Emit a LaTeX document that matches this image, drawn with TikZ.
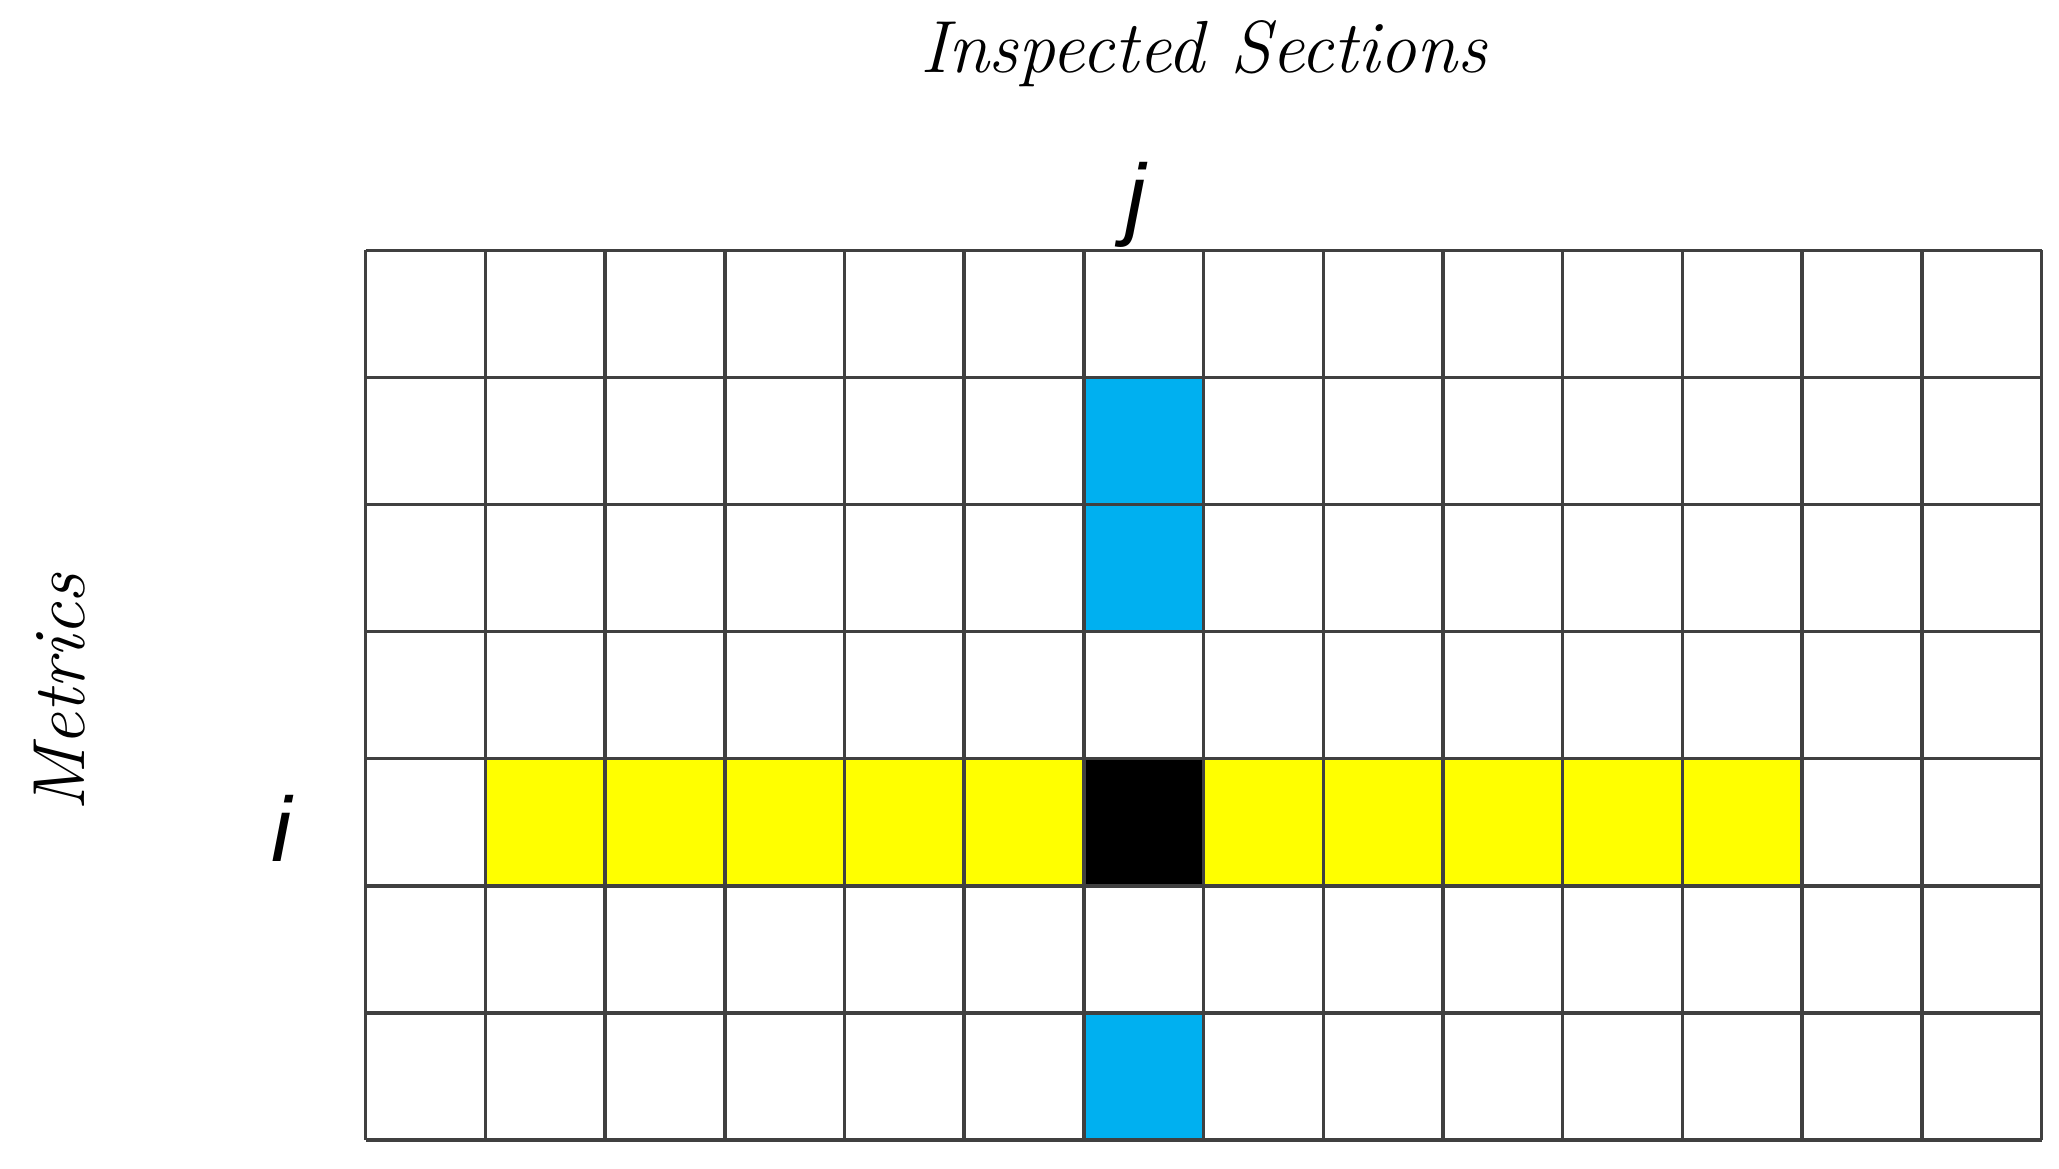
\documentclass[tikz,border=0pt]{standalone}
\usepackage{fontspec}
\newfontfamily\idxfont{Liberation Sans}
\definecolor{cellblue}{HTML}{00B0F0}
\definecolor{cellyellow}{HTML}{FFFF00}
\tikzset{
  gridline/.style={draw=black!75, line width=1pt},
  axislabel/.style={font=\fontsize{21}{25}\selectfont\itshape},
  indexlabel/.style={font=\idxfont\fontsize{26}{30}\selectfont\itshape},
}
\begin{document}
\begin{tikzpicture}
    \useasboundingbox (0,0) rectangle (20.59,11.68);
    \begin{scope}[shift={(3.657,0.28)}, x=1.197cm, y=1.271cm]
        % row i (yellow)
        \fill[cellyellow] (1,2) rectangle (12,3);
        % crossing cell
        \fill[black] (6,2) rectangle (7,3);
        % column j (blue)
        \foreach \r in {0,4,5}
            \fill[cellblue] (6,\r) rectangle (7,\r+1);
        % grid lines
        \foreach \c in {0,...,14}
            \draw[gridline] (\c,0) -- (\c,7);
        \foreach \r in {0,...,7}
            \draw[gridline] (0,\r) -- (14,\r);
        \node[axislabel] (title) at (7,8.55) {Inspected Sections};
        \node[indexlabel] (colj) at (6.43,7.36) {j};
        \node[indexlabel] (rowi) at (-0.70,2.45) {i};
        \node[axislabel, rotate=90] (metrics) at (-2.56,3.52) {Metrics};
    \end{scope}
\end{tikzpicture}
\end{document}
